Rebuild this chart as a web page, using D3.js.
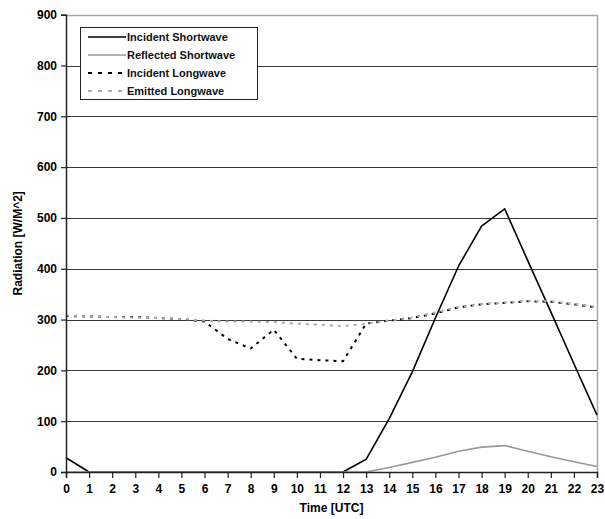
<!DOCTYPE html>
<html><head><meta charset="utf-8">
<script src="https://cdn.jsdelivr.net/npm/d3@7/dist/d3.min.js"></script>
<style>
body{margin:0;background:#fff;}
svg{display:block;font-family:Arial,"Liberation Sans",sans-serif;}
</style></head>
<body><svg id="c" width="605" height="519"></svg>
<script>
const hours = d3.range(0, 24);
const xTickLabels = hours.map(String);
const yTicks = [0,100,200,300,400,500,600,700,800,900];
const seriesNames = ["Incident Shortwave","Reflected Shortwave","Incident Longwave","Emitted Longwave"];
const incidentSW  = [28,0,0,0,0,0,0,0,0,0,0,0,0,25,105,197,303,405,484,518,416,315,213,112];
const reflectedSW = [0,0,0,0,0,0,0,0,0,0,0,0,0,0,9,19,29,41,49,52,41,30,20,11];
const incidentLW  = [307,306,305,305,303,301,296,262,243,280,223,220,218,292,298,303,312,324,330,333,336,335,330,324];
const emittedLW   = [308,306,305,304,303,301,298,296,296,295,292,290,287,292,298,304,314,325,331,334,337,336,331,325];

const svg = d3.select("#c");
const L = 66, R = 597, T = 14.7, B = 472;
const x = d3.scaleLinear().domain([0,23]).range([L,R]);
const y = d3.scaleLinear().domain([0,900]).range([B,T]);

// gridlines
svg.append("g").selectAll("line").data(yTicks.filter(v=>v>0 && v<900)).join("line")
  .attr("x1",L).attr("x2",R).attr("y1",d=>Math.round(y(d))+0.5).attr("y2",d=>Math.round(y(d))+0.5)
  .attr("stroke","#3a3a3a").attr("stroke-width",1.2);
// plot frame top/right
svg.append("path").attr("d",`M${L},${Math.round(T)+0.5}H${R+0.5}V${B}`)
  .attr("fill","none").attr("stroke","#a8a8a8").attr("stroke-width",1.5);

const line = d3.line().x((d,i)=>x(hours[i])).y(d=>y(d));
const styles = [
  {data:incidentSW, color:"#000", dash:null, w:1.6},
  {data:reflectedSW, color:"#999", dash:null, w:1.6},
  {data:incidentLW, color:"#000", dash:"3,5", w:2},
  {data:emittedLW, color:"#aaa", dash:"3,5", w:2}
];
styles.forEach(s=>{
  svg.append("path").datum(s.data).attr("d",line).attr("fill","none")
    .attr("stroke",s.color).attr("stroke-width",s.w)
    .attr("stroke-dasharray",s.dash).attr("stroke-linejoin","round");
});

// axes
const yAxis = svg.append("g").attr("transform",`translate(${L},0)`)
  .call(d3.axisLeft(y).tickValues(yTicks).tickSize(5).tickPadding(4));
const xAxis = svg.append("g").attr("transform",`translate(0,${B})`)
  .call(d3.axisBottom(x).tickValues(hours).tickFormat((d,i)=>xTickLabels[i]).tickSize(6).tickPadding(4));
[yAxis,xAxis].forEach(a=>{
  a.selectAll("path.domain").attr("stroke","#222").attr("stroke-width",1.5);
  a.selectAll(".tick line").attr("stroke","#222").attr("stroke-width",1.2);
  a.selectAll("text").attr("fill","#000").attr("font-size",12).attr("font-weight","bold")
   .attr("font-family","Arial, 'Liberation Sans', sans-serif");
});
xAxis.selectAll("text").attr("dy","0.9em");

svg.append("text").attr("x",(L+R)/2).attr("y",512).attr("text-anchor","middle")
  .attr("font-size",12).attr("font-weight","bold").text("Time [UTC]");
svg.append("text").attr("transform",`translate(22,${(T+B)/2}) rotate(-90)`).attr("text-anchor","middle")
  .attr("font-size",12).attr("font-weight","bold").text("Radiation [W/M^2]");

// legend
const lg = svg.append("g");
lg.append("rect").attr("x",80.5).attr("y",27.5).attr("width",177).attr("height",72)
  .attr("fill","#fff").attr("stroke","#222").attr("stroke-width",1);
seriesNames.forEach((n,i)=>{
  const yy = 37 + i*18;
  lg.append("line").attr("x1",88).attr("x2",126).attr("y1",yy).attr("y2",yy)
    .attr("stroke",styles[i].color).attr("stroke-width",styles[i].w)
    .attr("stroke-dasharray",styles[i].dash ? "4,6" : null);
  lg.append("text").attr("x",127).attr("y",yy+4).attr("font-size",11).attr("font-weight","bold")
    .attr("fill","#111").text(n);
});
</script></body></html>
